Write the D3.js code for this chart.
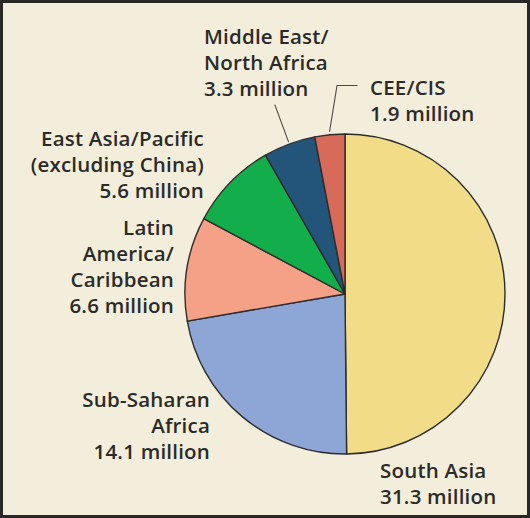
<!DOCTYPE html>
<html>
<head>
<meta charset="utf-8">
<script src="https://cdn.jsdelivr.net/npm/d3@7"></script>
<style>
  html, body { margin: 0; padding: 0; background: #fff; }
  svg { display: block; }
  text { font-family: "Open Sans", "Noto Sans", sans-serif; font-weight: 600; fill: #2b2a28; }
</style>
</head>
<body>
<div id="chart"></div>
<script>
// regions, clockwise from 12 o'clock
var regions = ["South Asia", "Sub-Saharan Africa", "Latin America/Caribbean",
  "East Asia/Pacific (excluding China)", "Middle East/North Africa", "CEE/CIS"];
var values = [31.3, 14.1, 6.6, 5.6, 3.3, 1.9];
var colors = ["#f3dc88", "#8ea6d6", "#f4a187", "#13ad4b", "#235479", "#d86a5a"];
var labelLines = [
  ["South Asia", "31.3 million"],
  ["Sub-Saharan", "Africa", "14.1 million"],
  ["Latin", "America/", "Caribbean", "6.6 million"],
  ["East Asia/Pacific", "(excluding China)", "5.6 million"],
  ["Middle East/", "North Africa", "3.3 million"],
  ["CEE/CIS", "1.9 million"]
];

var width = 530, height = 518;
var cx = 345, cy = 294, radius = 160;
var lineH = 26;

// label anchor (first baseline) and alignment for each slice
var labelPos = [
  { x: 380, y: 478, anchor: "start" },
  { x: 210, y: 407, anchor: "end" },
  { x: 174, y: 235, anchor: "end" },
  { x: 204, y: 146, anchor: "end" },
  { x: 204, y: 44, anchor: "start" },
  { x: 370, y: 95, anchor: "start" }
];

var svg = d3.select("#chart").append("svg")
  .attr("width", width)
  .attr("height", height);

// background panel + frame
svg.append("rect")
  .attr("x", 1.5).attr("y", 1.5)
  .attr("width", width - 3).attr("height", height - 3)
  .attr("fill", "#f3eedb")
  .attr("stroke", "#2a2826")
  .attr("stroke-width", 3);

var pie = d3.pie().sort(null).value(function (d) { return d; });
var arcs = pie(values);
var arc = d3.arc().innerRadius(0).outerRadius(radius);

var g = svg.append("g").attr("transform", "translate(" + cx + "," + cy + ")");

g.selectAll("path.slice")
  .data(arcs)
  .enter().append("path")
  .attr("class", "slice")
  .attr("d", arc)
  .attr("fill", function (d, i) { return colors[i]; })
  .attr("stroke", "#2e2c2a")
  .attr("stroke-width", 1.4)
  .attr("stroke-linejoin", "round");

// leader lines for the two small slices at the top
function polar(a, r) { return [r * Math.sin(a), -r * Math.cos(a)]; }
var mid = function (d) { return (d.startAngle + d.endAngle) / 2; };

var me = arcs[4];
var p0 = polar(mid(me), radius + 2), p1 = polar(mid(me), radius + 42);
g.append("line")
  .attr("x1", p0[0]).attr("y1", p0[1])
  .attr("x2", p1[0]).attr("y2", p1[1])
  .attr("stroke", "#4a4846").attr("stroke-width", 1.1);

var cee = arcs[5];
var q0 = polar(mid(cee), radius + 3);
var q1 = [q0[0] + 7.5, -208.5];
g.append("polyline")
  .attr("points", [q0, q1, [q1[0] + 20.5, q1[1]]].map(function (p) { return p.join(","); }).join(" "))
  .attr("fill", "none")
  .attr("stroke", "#4a4846").attr("stroke-width", 1.1);

// labels
labelLines.forEach(function (lines, i) {
  var pos = labelPos[i];
  var t = svg.append("text")
    .attr("text-anchor", pos.anchor)
    .attr("font-size", 20.5)
    .attr("letter-spacing", 0.2);
  lines.forEach(function (s, j) {
    t.append("tspan").attr("x", pos.x).attr("y", pos.y + j * lineH).text(s);
  });
});
</script>
</body>
</html>
